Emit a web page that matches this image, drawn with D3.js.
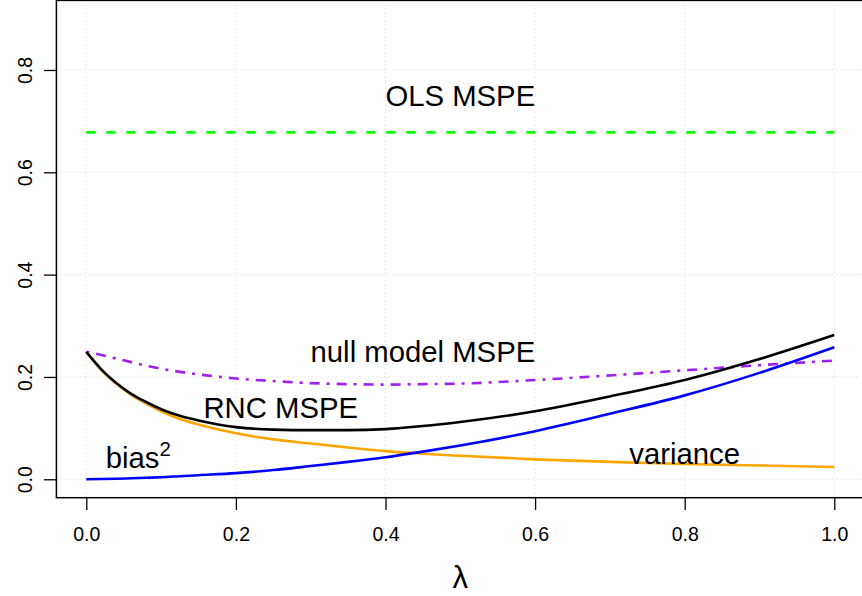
<!DOCTYPE html>
<html>
<head>
<meta charset="utf-8">
<script src="https://cdn.jsdelivr.net/npm/d3@7/dist/d3.min.js"></script>
<style>
  html, body { margin: 0; padding: 0; background: #fff; }
  svg { display: block; }
  text { font-family: "Liberation Sans", Arial, Helvetica, sans-serif; fill: #000; }
</style>
</head>
<body>
<svg id="chart" width="862" height="596"></svg>
<script>
// Tuning parameter grid and the error curves evaluated on it
const lambda   = [0, 0.02, 0.04, 0.06, 0.08, 0.1, 0.125, 0.15, 0.2, 0.25, 0.3, 0.35, 0.4, 0.45, 0.5, 0.6, 0.7, 0.8, 0.9, 1.0];
const variance = [0.249, 0.214, 0.187, 0.165, 0.148, 0.133, 0.118, 0.107, 0.090, 0.078, 0.070, 0.062, 0.055, 0.050, 0.046, 0.039, 0.034, 0.030, 0.027, 0.024];
const bias2    = [0.000, 0.0005, 0.001, 0.002, 0.003, 0.004, 0.006, 0.008, 0.012, 0.018, 0.026, 0.034, 0.043, 0.054, 0.066, 0.094, 0.128, 0.164, 0.208, 0.258];
const rncMspe  = [0.249, 0.215, 0.188, 0.167, 0.151, 0.137, 0.124, 0.115, 0.102, 0.097, 0.096, 0.096, 0.098, 0.104, 0.112, 0.133, 0.162, 0.194, 0.235, 0.282];
const nullMspe = [0.249, 0.243, 0.236, 0.229, 0.222, 0.216, 0.210, 0.205, 0.197, 0.192, 0.188, 0.186, 0.185, 0.186, 0.187, 0.194, 0.203, 0.213, 0.223, 0.232];
const olsLambda = [0, 1];
const olsMspe   = [0.678, 0.678];

const xTicks = [0, 0.2, 0.4, 0.6, 0.8, 1.0];
const yTicks = [0, 0.2, 0.4, 0.6, 0.8];

// Curve labels: [text, lambda, value]
const labels = [
  ["OLS MSPE", 0.5, 0.75],
  ["null model MSPE", 0.45, 0.25],
  ["RNC MSPE", 0.26, 0.14],
  ["variance", 0.8, 0.05]
];

const svg = d3.select("#chart");

// Plot region (x padded by 4% each side, y from -0.036 to 0.936)
const x = d3.scaleLinear().domain([-0.04, 1.04]).range([56.4, 864.2]);
const y = d3.scaleLinear().domain([-0.036, 0.936]).range([497.7, 0.4]);

const baseFont = 19.5;
const labFont = 29.3;

// Dotted grid
const grid = svg.append("g").attr("stroke", "#D3D3D3").attr("stroke-width", 1).attr("stroke-dasharray", "1,3");
grid.selectAll("line.v").data(xTicks).join("line")
  .attr("x1", d => x(d)).attr("x2", d => x(d))
  .attr("y1", y.range()[1]).attr("y2", y.range()[0]);
grid.selectAll("line.h").data(yTicks).join("line")
  .attr("x1", x.range()[0]).attr("x2", x.range()[1])
  .attr("y1", d => y(d)).attr("y2", d => y(d));

// Axes
const xAxis = svg.append("g")
  .attr("transform", `translate(0,${y.range()[0]})`)
  .call(d3.axisBottom(x).tickValues(xTicks).tickFormat(d3.format(".1f")).tickSize(12.3).tickPadding(16.9));
xAxis.select(".domain").remove();
xAxis.selectAll("line").attr("stroke", "#000").attr("stroke-width", 1.3);
xAxis.selectAll("text").attr("font-size", baseFont).attr("font-family", "Liberation Sans, Arial, sans-serif").attr("fill", "#000");

const yAxis = svg.append("g")
  .attr("transform", `translate(${x.range()[0]},0)`)
  .call(d3.axisLeft(y).tickValues(yTicks).tickFormat(d3.format(".1f")).tickSize(12.5));
yAxis.select(".domain").remove();
yAxis.selectAll("line").attr("stroke", "#000").attr("stroke-width", 1.3);
yAxis.selectAll("text")
  .attr("x", 0).attr("dy", 0)
  .attr("text-anchor", "middle")
  .attr("transform", "translate(-24.4,0) rotate(-90)")
  .attr("font-size", baseFont).attr("font-family", "Liberation Sans, Arial, sans-serif").attr("fill", "#000");

// Plot box
svg.append("rect")
  .attr("x", x.range()[0]).attr("y", y.range()[1])
  .attr("width", x.range()[1] - x.range()[0])
  .attr("height", y.range()[0] - y.range()[1])
  .attr("fill", "none").attr("stroke", "#000").attr("stroke-width", 1.5);

// Curves
const line = d3.line().x(d => x(d[0])).y(d => y(d[1])).curve(d3.curveMonotoneX);
const zip = (a, b) => a.map((v, i) => [v, b[i]]);

const series = [
  { xs: olsLambda, ys: olsMspe, color: "#00FF00", dash: "9,11" },
  { xs: lambda, ys: nullMspe, color: "#A020F0", dash: "3,7,10,7" },
  { xs: lambda, ys: variance, color: "#FFA500", dash: null },
  { xs: lambda, ys: rncMspe, color: "#000000", dash: null },
  { xs: lambda, ys: bias2, color: "#0000FF", dash: null }
];
svg.append("g").selectAll("path").data(series).join("path")
  .attr("d", s => line(zip(s.xs, s.ys)))
  .attr("fill", "none")
  .attr("stroke", s => s.color)
  .attr("stroke-width", 2.6)
  .attr("stroke-dasharray", s => s.dash);

// Curve labels (vertically centred on cap height)
svg.append("g").selectAll("text").data(labels).join("text")
  .attr("x", d => x(d[1]))
  .attr("y", d => y(d[2]) + 0.358 * labFont)
  .attr("text-anchor", "middle")
  .attr("font-size", labFont)
  .text(d => d[0]);

// bias^2 label with superscript
const biasLabel = svg.append("text")
  .attr("x", x(0.026))
  .attr("y", y(0.042) + 0.358 * labFont)
  .attr("font-size", labFont);
biasLabel.append("tspan").text("bias");
biasLabel.append("tspan").attr("font-size", labFont * 0.7).attr("dy", -labFont * 0.42).text("2");

// x-axis title
svg.append("text")
  .attr("x", x(0.5))
  .attr("y", 588)
  .attr("text-anchor", "middle")
  .attr("font-size", 31)
  .attr("font-family", "Liberation Serif, DejaVu Serif, serif")
  .text("λ");
</script>
</body>
</html>
